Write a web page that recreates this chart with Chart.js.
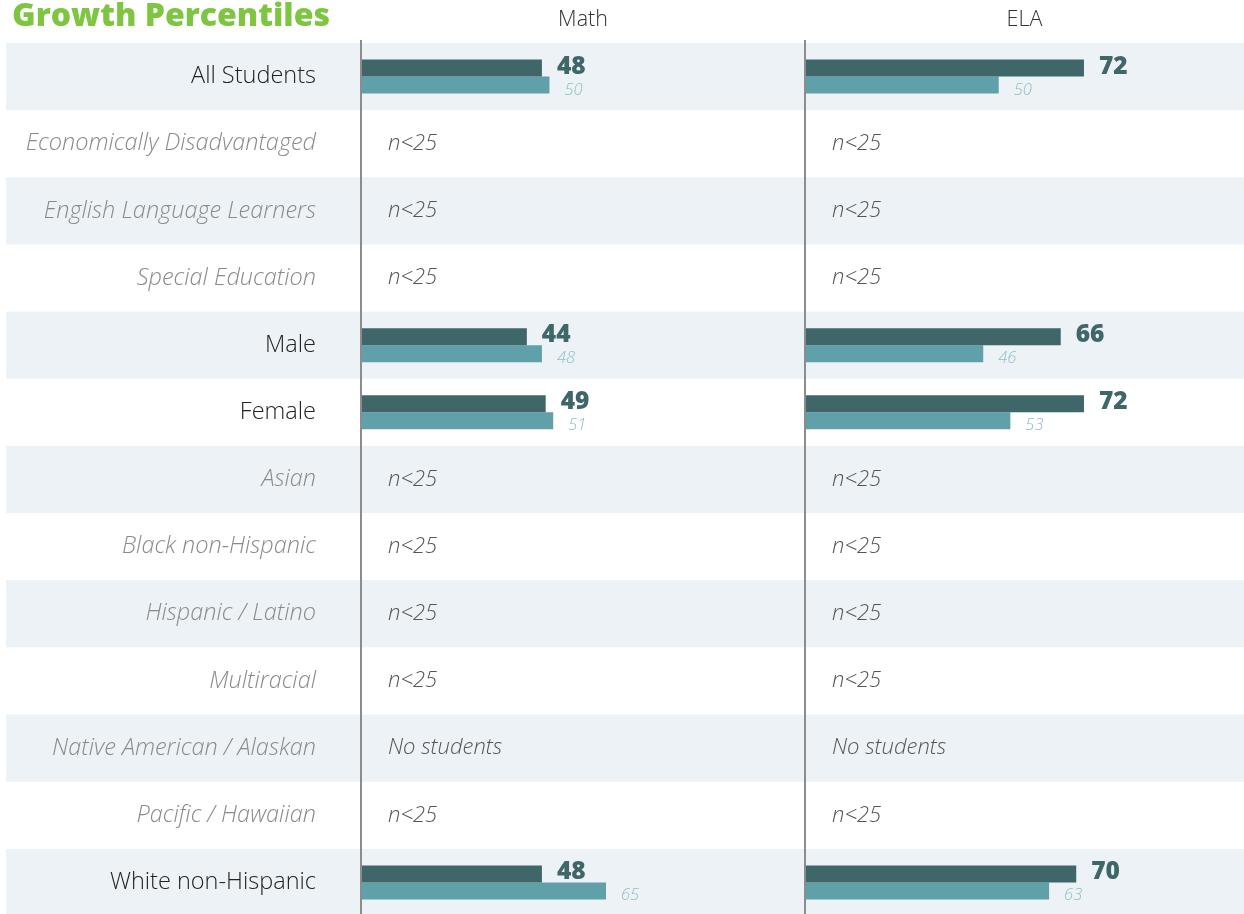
<!DOCTYPE html>
<html><head><meta charset="utf-8">
<script src="https://cdn.jsdelivr.net/npm/chart.js@4/dist/chart.umd.min.js"></script>
<style>
html,body{margin:0;padding:0;background:#fff;overflow:hidden;}
#wrap{position:relative;width:1244px;height:916px;}
#title{position:absolute;left:12px;top:-3px;font-family:'Open Sans';font-weight:800;font-size:32px;line-height:34px;color:#7ec641;z-index:2;white-space:nowrap;}
</style></head><body>
<div id="wrap"><div id="title">Growth Percentiles</div><canvas id="c"></canvas></div>
<script>
const categories = ['All Students','Economically Disadvantaged','English Language Learners','Special Education','Male','Female','Asian','Black non-Hispanic','Hispanic / Latino','Multiracial','Native American / Alaskan','Pacific / Hawaiian','White non-Hispanic'];
const mathSchool = [48,null,null,null,44,49,null,null,null,null,null,null,48];
const mathComparison = [50,null,null,null,48,51,null,null,null,null,null,null,65];
const elaSchool = [72,null,null,null,66,72,null,null,null,null,null,null,70];
const elaComparison = [50,null,null,null,46,53,null,null,null,null,null,null,63];
const notes = ['','n<25','n<25','n<25','','','n<25','n<25','n<25','n<25','No students','n<25',''];
const panelTitles = ['Math','ELA'];

const DARK = '#3f6668', LIGHT = '#60a0a8';
Chart.defaults.font.family = "'Open Sans', sans-serif";

const hasData = i => mathSchool[i] != null || elaSchool[i] != null;

const drawPlugin = {
  id: 'custom',
  beforeDraw(chart) {
    const {ctx, scales: {y}} = chart;
    const h = (y.bottom - y.top) / categories.length;
    ctx.save();
    ctx.fillStyle = '#edf2f6';
    categories.forEach((c, i) => {
      if (i % 2 === 0) {
        const yc = y.getPixelForValue(i);
        ctx.fillRect(6, yc - h / 2, chart.width - 6, h);
      }
    });
    ctx.restore();
  },
  afterDatasetsDraw(chart) {
    const {ctx, scales: {y}} = chart;
    ctx.save();
    ['xMath', 'xEla'].forEach(id => {
      const s = chart.scales[id];
      ctx.fillStyle = '#8c8c8c';
      ctx.fillRect(s.left - 1, 40, 2, chart.height - 40);
      ctx.font = "italic 300 22px 'Open Sans'";
      ctx.fillStyle = '#555';
      ctx.textBaseline = 'middle';
      ctx.textAlign = 'left';
      notes.forEach((n, i) => {
        if (n) ctx.fillText(n, s.left + 27, y.getPixelForValue(i));
      });
    });
    chart.data.datasets.forEach((ds, di) => {
      const meta = chart.getDatasetMeta(di);
      meta.data.forEach((bar, i) => {
        const v = ds.data[i];
        if (v == null) return;
        const p = bar.getProps(['x', 'y', 'height'], true);
        ctx.textAlign = 'left';
        ctx.textBaseline = 'alphabetic';
        if (ds.stack === 's') {
          ctx.font = "800 24.5px 'Open Sans'";
          ctx.fillStyle = DARK;
          ctx.fillText(String(v), p.x + 15, p.y + p.height / 2 - 3);
        } else {
          ctx.font = "italic 300 16.5px 'Open Sans'";
          ctx.fillStyle = '#8fbfc6';
          ctx.fillText(String(v), p.x + 15, p.y + p.height / 2 + 1);
        }
      });
    });
    ctx.restore();
  }
};

const xAxis = (title, weight, max) => ({
  type: 'linear', position: 'top', stack: 'panels', stackWeight: weight,
  min: 0, max: max, stacked: false,
  ticks: {display: false},
  grid: {display: false, drawTicks: false},
  border: {display: false},
  title: {display: true, text: title, color: '#333', font: {size: 21.5, weight: 300}, padding: {top: 6.6, bottom: 10.6}}
});

new Chart(document.getElementById('c'), {
  type: 'bar',
  data: {
    labels: categories,
    datasets: [
      {label: 'Math', data: mathSchool, xAxisID: 'xMath', yAxisID: 'y', stack: 's', backgroundColor: DARK},
      {label: 'Math comparison', data: mathComparison, xAxisID: 'xMath', yAxisID: 'y', stack: 'c', backgroundColor: LIGHT},
      {label: 'ELA', data: elaSchool, xAxisID: 'xEla', yAxisID: 'y', stack: 's', backgroundColor: DARK},
      {label: 'ELA comparison', data: elaComparison, xAxisID: 'xEla', yAxisID: 'y', stack: 'c', backgroundColor: LIGHT}
    ]
  },
  options: {
    indexAxis: 'y',
    responsive: true,
    maintainAspectRatio: false,
    animation: false,
    categoryPercentage: 0.506,
    barPercentage: 1,
    layout: {padding: 0},
    plugins: {legend: {display: false}, tooltip: {enabled: false}},
    scales: {
      xEla: xAxis(panelTitles[1], 439, 113.3),
      xMath: xAxis(panelTitles[0], 444, 117.8),
      y: {
        type: 'category', position: 'left', offset: true,
        grid: {display: false, drawTicks: false},
        border: {display: false},
        afterFit: s => { s.width = 361; s.paddingTop = 0; s.paddingBottom = 0; },
        ticks: {
          padding: 45,
          font: ctx => ({size: 23.5, weight: 300, style: hasData(ctx.index) ? 'normal' : 'italic'}),
          color: ctx => hasData(ctx.index) ? '#222' : '#8a8a8a'
        }
      }
    }
  },
  plugins: [drawPlugin]
});
</script>
</body></html>
